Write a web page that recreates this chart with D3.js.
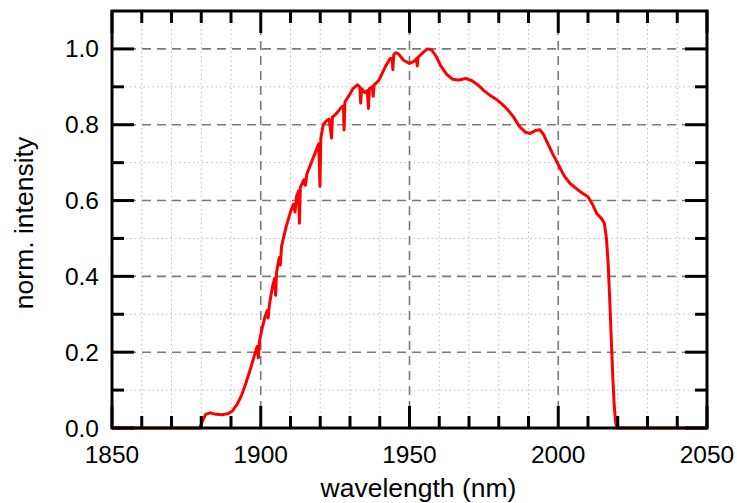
<!DOCTYPE html>
<html>
<head>
<meta charset="utf-8">
<script src="https://cdn.jsdelivr.net/npm/d3@7"></script>
<style>
  body { margin: 0; background: #fff; }
  svg { display: block; }
</style>
</head>
<body>
<svg id="chart" width="737" height="503"></svg>
<script>
(function() {

  // spectrum (wavelength in nm)
  const wavelength = [
    1850, 1879.5, 1880.5, 1881.5, 1883, 1885, 1887, 1889, 1890.5, 1892,
    1893.5, 1895, 1896.5, 1898, 1898.8, 1899.2, 1899.6, 1900.5, 1901.5, 1902.2,
    1902.5, 1902.9, 1904, 1904.7, 1905, 1905.3, 1906.2, 1906.6, 1907, 1908.5,
    1910, 1911, 1911.5, 1912, 1912.7, 1913, 1913.3, 1914.5, 1915, 1915.5,
    1917, 1918.5, 1919.5, 1919.9, 1920.2, 1921, 1922, 1923, 1923.8, 1924.1,
    1925.5, 1927, 1927.8, 1928, 1928.3, 1929.5, 1931, 1932.5, 1933.3, 1933.6,
    1933.9, 1935, 1935.8, 1936.2, 1936.5, 1937.5, 1937.8, 1938.1, 1939.5, 1940.5,
    1942, 1943.5, 1944.2, 1944.4, 1944.7, 1945.5, 1946.5, 1948, 1950, 1951.5,
    1952.4, 1952.6, 1952.9, 1954.5, 1956, 1957.5, 1959, 1960.5, 1962.5, 1964.5,
    1966.5, 1969, 1971, 1973, 1975, 1977, 1979, 1981, 1983, 1985,
    1987, 1989, 1990.5, 1992.5, 1993.8, 1995, 1996.5, 1998, 2000, 2002,
    2004, 2006, 2008, 2010, 2011.5, 2013, 2014.5, 2015.5, 2016.2, 2016.8,
    2017.3, 2017.8, 2018.3, 2018.8, 2019.3, 2019.8, 2050
  ];
  const intensity = [
    0, 0, 0.02, 0.036, 0.04, 0.036, 0.035, 0.038, 0.045, 0.062,
    0.085, 0.118, 0.155, 0.195, 0.215, 0.185, 0.23, 0.265, 0.295, 0.31,
    0.29, 0.325, 0.375, 0.395, 0.35, 0.41, 0.45, 0.43, 0.48, 0.53,
    0.57, 0.59, 0.57, 0.61, 0.625, 0.54, 0.635, 0.655, 0.64, 0.67,
    0.7, 0.73, 0.75, 0.637, 0.765, 0.8, 0.81, 0.815, 0.765, 0.82,
    0.83, 0.845, 0.85, 0.786, 0.86, 0.875, 0.895, 0.905, 0.9, 0.857,
    0.895, 0.885, 0.89, 0.843, 0.895, 0.9, 0.875, 0.905, 0.915, 0.93,
    0.955, 0.975, 0.975, 0.945, 0.985, 0.99, 0.985, 0.97, 0.962, 0.967,
    0.975, 0.955, 0.978, 0.99, 1.0, 0.997, 0.98, 0.955, 0.933, 0.92,
    0.918, 0.922, 0.916, 0.905, 0.89, 0.878, 0.868, 0.855, 0.84, 0.82,
    0.795, 0.78, 0.777, 0.785, 0.787, 0.775, 0.75, 0.725, 0.695, 0.665,
    0.645, 0.632, 0.62, 0.61, 0.59, 0.565, 0.553, 0.54, 0.5, 0.43,
    0.34, 0.24, 0.14, 0.06, 0.015, 0, 0
  ];

  const xMajor = [1850, 1900, 1950, 2000, 2050];
  const xMinor = [1860, 1870, 1880, 1890, 1910, 1920, 1930, 1940, 1960, 1970, 1980, 1990, 2010, 2020, 2030, 2040];
  const yMajor = [0, 0.2, 0.4, 0.6, 0.8, 1.0];
  const yMinor = [0.1, 0.3, 0.5, 0.7, 0.9];

  const FONT = "'Liberation Sans', Arial, sans-serif";
  const INK = "#000";
  const margin = { left: 112, top: 11, right: 30, bottom: 75 };
  const W = 737, H = 503;
  const x0 = margin.left, x1 = W - margin.right;
  const y0 = margin.top, y1 = H - margin.bottom;

  const x = d3.scaleLinear().domain([1850, 2050]).range([x0, x1]);
  const y = d3.scaleLinear().domain([0, 1.1]).range([y1, y0]);

  const svg = d3.select("#chart");

  // minor grid (dotted)
  const grid = svg.append("g");
  xMinor.forEach(v => {
    grid.append("line")
      .attr("x1", x(v)).attr("x2", x(v)).attr("y1", y0).attr("y2", y1)
      .attr("stroke", "#bdbdbd").attr("stroke-width", 1)
      .attr("stroke-dasharray", "1.5,3");
  });
  yMinor.forEach(v => {
    grid.append("line")
      .attr("x1", x0).attr("x2", x1).attr("y1", y(v)).attr("y2", y(v))
      .attr("stroke", "#bdbdbd").attr("stroke-width", 1)
      .attr("stroke-dasharray", "1.5,3");
  });

  // major grid (dashed)
  xMajor.slice(1, -1).forEach(v => {
    grid.append("line")
      .attr("x1", x(v)).attr("x2", x(v)).attr("y1", y0).attr("y2", y1)
      .attr("stroke", "#7a7a7a").attr("stroke-width", 1.6)
      .attr("stroke-dasharray", "9,6");
  });
  yMajor.slice(1).forEach(v => {
    grid.append("line")
      .attr("x1", x0).attr("x2", x1).attr("y1", y(v)).attr("y2", y(v))
      .attr("stroke", "#7a7a7a").attr("stroke-width", 1.6)
      .attr("stroke-dasharray", "9,6");
  });

  // the spectrum
  const data = wavelength.map((w, i) => [w, intensity[i]]);
  const line = d3.line().x(d => x(d[0])).y(d => y(d[1]));
  svg.append("path")
    .datum(data)
    .attr("d", line)
    .attr("fill", "none")
    .attr("stroke", "#ff0000")
    .attr("stroke-width", 3)
    .attr("stroke-linejoin", "round");

  // inward ticks on all four sides
  const ticks = svg.append("g").attr("stroke", INK).attr("stroke-width", 3);
  const tick = (v, len, isX) => {
    if (isX) {
      ticks.append("line").attr("x1", x(v)).attr("x2", x(v)).attr("y1", y1).attr("y2", y1 - len);
      ticks.append("line").attr("x1", x(v)).attr("x2", x(v)).attr("y1", y0).attr("y2", y0 + len);
    } else {
      ticks.append("line").attr("y1", y(v)).attr("y2", y(v)).attr("x1", x0).attr("x2", x0 + len);
      ticks.append("line").attr("y1", y(v)).attr("y2", y(v)).attr("x1", x1).attr("x2", x1 - len);
    }
  };
  xMajor.forEach(v => tick(v, 22, true));
  xMinor.forEach(v => tick(v, 12, true));
  yMajor.forEach(v => tick(v, 22, false));
  yMinor.forEach(v => tick(v, 12, false));

  // frame
  svg.append("rect")
    .attr("x", x0).attr("y", y0)
    .attr("width", x1 - x0).attr("height", y1 - y0)
    .attr("fill", "none").attr("stroke", INK).attr("stroke-width", 3);

  // tick labels
  xMajor.forEach(v => {
    svg.append("text")
      .attr("x", x(v)).attr("y", 463)
      .attr("text-anchor", "middle")
      .attr("font-family", FONT).attr("font-size", 24.5)
      .attr("fill", INK)
      .text(v);
  });
  yMajor.forEach(v => {
    svg.append("text")
      .attr("x", 99).attr("y", y(v))
      .attr("text-anchor", "end")
      .attr("dominant-baseline", "central")
      .attr("font-family", FONT).attr("font-size", 24.5)
      .attr("fill", INK)
      .text(d3.format(".1f")(v));
  });

  // axis titles
  svg.append("text")
    .attr("x", (x0 + x1) / 2 + 9).attr("y", 497)
    .attr("text-anchor", "middle")
    .attr("font-family", FONT).attr("font-size", 26.5)
    .attr("fill", INK)
    .text("wavelength (nm)");

  svg.append("text")
    .attr("transform", `translate(33,223) rotate(-90)`)
    .attr("text-anchor", "middle")
    .attr("font-family", FONT).attr("font-size", 26.5)
    .attr("fill", INK)
    .text("norm. intensity");

})();
</script>
</body>
</html>
